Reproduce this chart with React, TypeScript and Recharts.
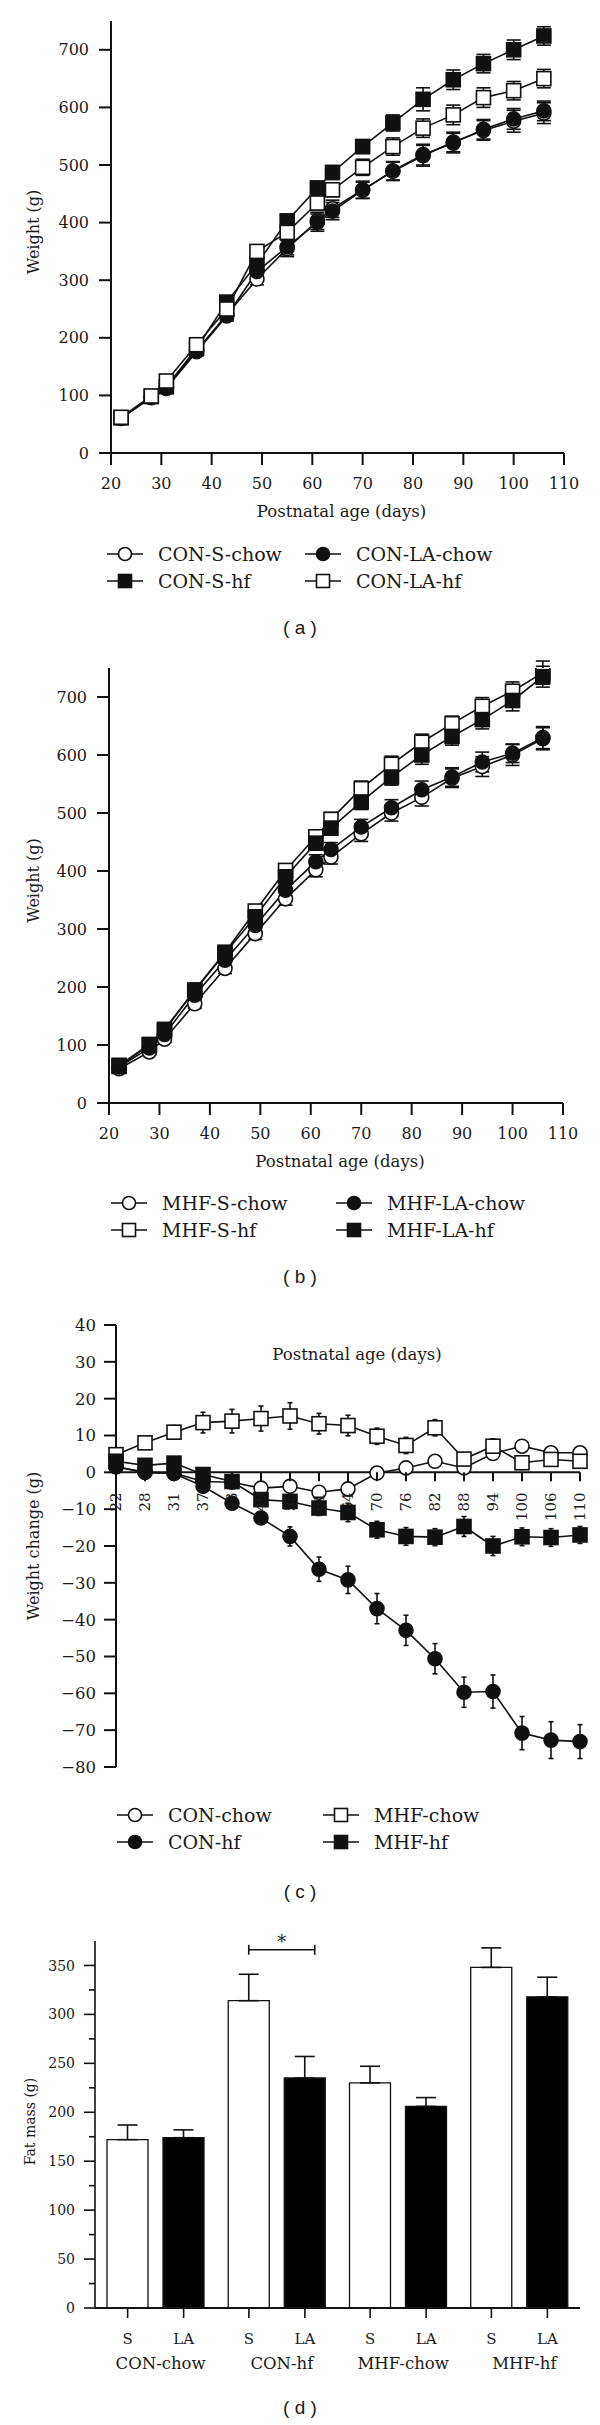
import React from 'react';
import {
  LineChart, Line, XAxis, YAxis, ErrorBar, ReferenceLine, Label,
  BarChart, Bar, LabelList,
} from 'recharts';

const SERIF = '"DejaVu Serif", serif';
const SANS = '"Liberation Sans", Arial, sans-serif';
const INK = '#111';

// (a) and (b): weigh-in days
const weighDays = [22, 28, 31, 37, 43, 49, 55, 61, 64, 70, 76, 82, 88, 94, 100, 106];

// (a) CON offspring, body weight (g)
const conSChow = [61, 97, 114, 178, 240, 302, 355, 403, 424, 457, 489, 516, 540, 560, 576, 590];
const conSChowErr = [5, 5, 6, 8, 9, 10, 14, 15, 15, 15, 16, 18, 17, 17, 19, 18];
const conLAChow = [60, 96, 112, 176, 238, 315, 358, 400, 420, 456, 490, 518, 538, 562, 580, 594];
const conLAChowErr = [5, 5, 6, 8, 9, 10, 14, 15, 15, 14, 16, 18, 17, 17, 18, 17];
const conSHf = [61, 98, 115, 182, 262, 328, 403, 460, 487, 532, 573, 614, 648, 676, 700, 724];
const conSHfErr = [5, 5, 6, 8, 9, 10, 10, 12, 12, 12, 14, 20, 17, 16, 17, 16];
const conLAHf = [62, 99, 125, 188, 250, 350, 383, 434, 457, 496, 532, 564, 587, 617, 629, 650];
const conLAHfErr = [5, 5, 6, 8, 8, 8, 10, 12, 12, 14, 15, 16, 17, 17, 16, 16];

// (b) MHF offspring, body weight (g)
const mhfSChow = [59, 88, 110, 171, 232, 292, 352, 402, 424, 464, 500, 527, 560, 580, 600, 628];
const mhfSChowErr = [5, 5, 6, 8, 9, 10, 11, 12, 12, 13, 14, 15, 16, 17, 18, 19];
const mhfLAChow = [62, 95, 118, 186, 246, 306, 367, 416, 437, 476, 509, 540, 562, 588, 603, 630];
const mhfLAChowErr = [5, 5, 6, 8, 9, 10, 11, 12, 12, 13, 14, 15, 16, 17, 16, 19];
const mhfSHf = [63, 100, 125, 195, 260, 331, 401, 459, 489, 542, 584, 622, 654, 684, 710, 742];
const mhfSHfErr = [5, 5, 6, 8, 9, 10, 11, 12, 12, 13, 14, 14, 13, 15, 16, 20];
const mhfLAHf = [65, 101, 127, 194, 258, 321, 390, 448, 474, 519, 562, 600, 632, 661, 694, 735];
const mhfLAHfErr = [5, 5, 6, 8, 9, 10, 11, 12, 12, 13, 14, 16, 15, 16, 18, 18];

// (c) weight change vs reference group (g)
const changeDays = ['22', '28', '31', '37', '43', '49', '55', '61', '64', '70', '76', '82', '88', '94', '100', '106', '110'];
const conChowChange = [1.5, 0, -0.2, -2.5, -2.7, -4.3, -3.8, -5.4, -4.5, -0.2, 1.2, 3.0, 1.2, 5.1, 7.1, 5.3, 5.3];
const conChowChangeErr = [0.8, 0.8, 0.8, 1, 1, 1.2, 1.2, 1.3, 1.3, 1, 1, 1, 1, 1, 1, 1, 1];
const conHfChange = [1.5, 0, -0.3, -3.8, -8.4, -12.4, -17.4, -26.3, -29.2, -37.0, -42.9, -50.6, -59.7, -59.5, -70.8, -72.7, -73.1];
const conHfChangeErr = [0.5, 0.5, 0.5, 1, 1.5, 1.5, 2.6, 3.3, 3.7, 4.1, 4.1, 4.1, 4.1, 4.5, 4.5, 5, 4.6];
const mhfChowChange = [4.8, 8.0, 10.9, 13.5, 13.9, 14.6, 15.3, 13.2, 12.7, 9.8, 7.3, 12.1, 3.6, 7.1, 2.6, 3.5, 3.0];
const mhfChowChangeErr = [1, 1.7, 1.8, 2.8, 3.2, 3.4, 3.6, 2.8, 2.8, 2.2, 2.2, 2.2, 1.5, 2.0, 1.8, 1.5, 1.5];
const mhfHfChange = [3.0, 1.9, 2.5, -0.6, -2.5, -7.4, -7.9, -9.7, -10.9, -15.6, -17.4, -17.6, -14.7, -20.0, -17.5, -17.7, -17.0];
const mhfHfChangeErr = [1, 1, 1, 1, 1.5, 1.5, 1.5, 2, 2.5, 2.3, 2.4, 2.3, 2.7, 2.6, 2.4, 2.4, 2.3];

// (d) fat mass (g)
const fatGroups = ['CON-chow', 'CON-hf', 'MHF-chow', 'MHF-hf'];
const fatS = [172, 314, 230, 348];
const fatSErr = [15, 27, 17, 20];
const fatLA = [174, 235, 206, 318];
const fatLAErr = [8, 22, 9, 20];
const fatSig = [false, true, false, false];

const dataA = weighDays.map((day, i) => ({
  day,
  sChow: conSChow[i], sChowErr: conSChowErr[i],
  laChow: conLAChow[i], laChowErr: conLAChowErr[i],
  sHf: conSHf[i], sHfErr: conSHfErr[i],
  laHf: conLAHf[i], laHfErr: conLAHfErr[i],
}));

const dataB = weighDays.map((day, i) => ({
  day,
  sChow: mhfSChow[i], sChowErr: mhfSChowErr[i],
  laChow: mhfLAChow[i], laChowErr: mhfLAChowErr[i],
  sHf: mhfSHf[i], sHfErr: mhfSHfErr[i],
  laHf: mhfLAHf[i], laHfErr: mhfLAHfErr[i],
}));

const dataC = changeDays.map((label, i) => ({
  label,
  conChow: conChowChange[i], conChowErr: conChowChangeErr[i],
  conHf: conHfChange[i], conHfErr: conHfChangeErr[i],
  mhfChow: mhfChowChange[i], mhfChowErr: mhfChowChangeErr[i],
  mhfHf: mhfHfChange[i], mhfHfErr: mhfHfChangeErr[i],
}));

const dataD = fatGroups.map((group, i) => ({
  group,
  s: fatS[i], sErr: [0, fatSErr[i]],
  la: fatLA[i], laErr: [0, fatLAErr[i]],
  sig: fatSig[i],
}));

type Shape = 'circle' | 'square';
interface SeriesDef { key: string; name: string; shape: Shape; filled: boolean }

const seriesA: SeriesDef[] = [
  { key: 'sChow', name: 'CON-S-chow', shape: 'circle', filled: false },
  { key: 'laChow', name: 'CON-LA-chow', shape: 'circle', filled: true },
  { key: 'sHf', name: 'CON-S-hf', shape: 'square', filled: true },
  { key: 'laHf', name: 'CON-LA-hf', shape: 'square', filled: false },
];
const seriesB: SeriesDef[] = [
  { key: 'sChow', name: 'MHF-S-chow', shape: 'circle', filled: false },
  { key: 'laChow', name: 'MHF-LA-chow', shape: 'circle', filled: true },
  { key: 'sHf', name: 'MHF-S-hf', shape: 'square', filled: false },
  { key: 'laHf', name: 'MHF-LA-hf', shape: 'square', filled: true },
];
const seriesC: SeriesDef[] = [
  { key: 'conChow', name: 'CON-chow', shape: 'circle', filled: false },
  { key: 'mhfChow', name: 'MHF-chow', shape: 'square', filled: false },
  { key: 'conHf', name: 'CON-hf', shape: 'circle', filled: true },
  { key: 'mhfHf', name: 'MHF-hf', shape: 'square', filled: true },
];

function Marker({ cx, cy, shape, filled, size = 14 }: { cx?: number; cy?: number; shape: Shape; filled: boolean; size?: number }) {
  if (cx == null || cy == null || Number.isNaN(cx) || Number.isNaN(cy)) return null;
  const fill = filled ? INK : '#fff';
  if (shape === 'square') {
    return <rect x={cx - size / 2} y={cy - size / 2} width={size} height={size} fill={fill} stroke={INK} strokeWidth={1.6} />;
  }
  return <circle cx={cx} cy={cy} r={size / 2} fill={fill} stroke={INK} strokeWidth={1.6} />;
}

const axisLine = { stroke: INK, strokeWidth: 2 };
const tickStyle = { fill: '#1a1a1a', fontSize: 16, fontFamily: SERIF };

// rotated y-axis title, centred on the plot
function yTitle(text: string, x: number, shift: number, size: number) {
  // eslint-disable-next-line @typescript-eslint/no-explicit-any
  return (props: any) => {
    const vb = props.viewBox || {};
    const cy = vb.y + vb.height / 2 + shift;
    return (
      <text x={x} y={cy} transform={`rotate(-90 ${x} ${cy})`} textAnchor="middle" dominantBaseline="central"
        fontFamily={SERIF} fontSize={size} fill="#1a1a1a">
        {text}
      </text>
    );
  };
}

// eslint-disable-next-line @typescript-eslint/no-explicit-any
const xTitle = (props: any) => {
  const vb = props.viewBox || {};
  return (
    <text x={vb.x + vb.width / 2 + 4} y={vb.y + 58} textAnchor="middle" dominantBaseline="central"
      fontFamily={SERIF} fontSize={16.5} fill="#1a1a1a">
      Postnatal age (days)
    </text>
  );
};

function GrowthChart({ data, series, top, height, marginTop, right, yWidth }: {
  // eslint-disable-next-line @typescript-eslint/no-explicit-any
  data: any[]; series: SeriesDef[]; top: number; height: number; marginTop: number; right: number; yWidth: number;
}) {
  return (
    <div style={{ position: 'absolute', left: 0, top }}>
      <LineChart width={600} height={height} data={data} margin={{ top: marginTop, right, bottom: 27, left: 0 }}>
        <XAxis dataKey="day" type="number" domain={[20, 110]} ticks={[20, 30, 40, 50, 60, 70, 80, 90, 100, 110]}
          height={50} axisLine={axisLine} tickLine={axisLine} tickSize={12} tickMargin={13} tick={tickStyle}>
          <Label content={xTitle} />
        </XAxis>
        <YAxis domain={[0, 750]} ticks={[0, 100, 200, 300, 400, 500, 600, 700]} allowDataOverflow
          width={yWidth} axisLine={axisLine} tickLine={axisLine} tickSize={12} tickMargin={10} tick={tickStyle}>
          <Label content={yTitle('Weight (g)', 33, -5, 16)} />
        </YAxis>
        {series.map((s) => (
          <Line key={s.key} dataKey={s.key} type="linear" stroke={INK} strokeWidth={1.6} isAnimationActive={false}
            // eslint-disable-next-line @typescript-eslint/no-explicit-any
            dot={(p: any) => <Marker key={`${s.key}-${p.index}`} cx={p.cx} cy={p.cy} shape={s.shape} filled={s.filled} />}>
            <ErrorBar dataKey={`${s.key}Err`} direction="y" width={7} stroke={INK} strokeWidth={1.6} />
          </Line>
        ))}
      </LineChart>
    </div>
  );
}

function LegendItem({ left, cy, def }: { left: number; cy: number; def: SeriesDef }) {
  return (
    <div style={{ position: 'absolute', left, top: cy - 14, height: 28, display: 'flex', alignItems: 'center', whiteSpace: 'nowrap' }}>
      <svg width={36} height={28}>
        <line x1={0} x2={36} y1={14} y2={14} stroke={INK} strokeWidth={1.6} />
        <Marker cx={18} cy={14} shape={def.shape} filled={def.filled} size={13} />
      </svg>
      <span style={{ marginLeft: 15, fontFamily: SERIF, fontSize: 19, color: '#1a1a1a', lineHeight: '28px' }}>{def.name}</span>
    </div>
  );
}

function Caption({ cy, text }: { cy: number; text: string }) {
  return (
    <div style={{ position: 'absolute', left: 0, width: 600, top: cy - 13, height: 26, lineHeight: '26px', textAlign: 'center',
      fontFamily: SANS, fontSize: 19, color: '#1a1a1a', whiteSpace: 'pre' }}>
      {text}
    </div>
  );
}

// (c) layout
const C_TOP = 25;
const C_HEIGHT = 480;
const C_XAXIS_H = 13;
const C_PLOT_H = C_HEIGHT - C_TOP - C_XAXIS_H;
const C_DOMAIN: [number, number] = [-80, 40];
const C_ZERO_Y = C_TOP + (C_PLOT_H * C_DOMAIN[1]) / (C_DOMAIN[1] - C_DOMAIN[0]);

// eslint-disable-next-line @typescript-eslint/no-explicit-any
function ChangeTick(props: any) {
  const { x, payload } = props;
  const ty = C_ZERO_Y + 20;
  return (
    <g>
      <line x1={x} x2={x} y1={C_ZERO_Y} y2={C_ZERO_Y + 9} stroke={INK} strokeWidth={2} />
      <text x={x} y={ty} transform={`rotate(-90 ${x} ${ty})`} textAnchor="end" dy="0.36em"
        fontFamily={SERIF} fontSize={15} fill="#1a1a1a">
        {payload.value}
      </text>
    </g>
  );
}

const minusFmt = (v: number) => (v < 0 ? `\u2212${Math.abs(v)}` : `${v}`);

// (d) layout
const D_TOP = 41;
const D_HEIGHT = 478;
const D_XAXIS_H = 70;
const D_PLOT_H = D_HEIGHT - D_TOP - D_XAXIS_H;
const D_MAX = 375;
const BAR_SIZE = 41;
const BAR_GAP = 15;
const D_TICK_SIZE = 11;
const D_TICK_MARGIN = 9;

// eslint-disable-next-line @typescript-eslint/no-explicit-any
function FatYTick(props: any) {
  const { x, y, payload } = props;
  const major = payload.value % 50 === 0;
  const ax = x + D_TICK_MARGIN + D_TICK_SIZE;
  return (
    <g>
      <line x1={ax - (major ? D_TICK_SIZE : 6)} x2={ax} y1={y} y2={y} stroke={INK} strokeWidth={1.6} />
      {major && (
        <text x={x} y={y} dy="0.36em" textAnchor="end" fontFamily={SERIF} fontSize={14} fill="#1a1a1a">{payload.value}</text>
      )}
    </g>
  );
}

// eslint-disable-next-line @typescript-eslint/no-explicit-any
function FatGroupTick(props: any) {
  const { x, y, payload } = props;
  const off = (BAR_SIZE + BAR_GAP) / 2;
  return (
    <g fontFamily={SERIF} fill="#1a1a1a">
      {[-off, off].map((d, i) => (
        <g key={i}>
          <line x1={x + d} x2={x + d} y1={y} y2={y + 10} stroke={INK} strokeWidth={1.6} />
          <text x={x + d} y={y + 31} textAnchor="middle" dominantBaseline="central" fontSize={15}>{i === 0 ? 'S' : 'LA'}</text>
        </g>
      ))}
      <text x={x + 5} y={y + 55} textAnchor="middle" dominantBaseline="central" fontSize={16.5}>{payload.value}</text>
    </g>
  );
}

// eslint-disable-next-line @typescript-eslint/no-explicit-any
function SigBracket(props: any) {
  if (!props.value) return null;
  const vb = props.viewBox && props.viewBox.width != null ? props.viewBox : props;
  const { x, y, width, height } = vb;
  const base = y + height;
  const yb = base - (366 * D_PLOT_H) / D_MAX;
  const x1 = x + width / 2;
  const x2 = x1 + BAR_SIZE + BAR_GAP + 10;
  return (
    <g stroke={INK} strokeWidth={1.6}>
      <line x1={x1} x2={x2} y1={yb} y2={yb} />
      <line x1={x1} x2={x1} y1={yb - 5} y2={yb + 5} />
      <line x1={x2} x2={x2} y1={yb - 5} y2={yb + 5} />
      <text x={(x1 + x2) / 2} y={yb - 2} textAnchor="middle" fontFamily={SERIF} fontSize={18} fill="#1a1a1a" stroke="none">*</text>
    </g>
  );
}

export default function App() {
  return (
    <div style={{ position: 'absolute', left: 0, top: 0, width: 600, height: 2425, background: '#fff', overflow: 'hidden' }}>
      {/* (a) */}
      <GrowthChart data={dataA} series={seriesA} top={0} height={530} marginTop={21} right={36} yWidth={111} />
      <LegendItem left={107} cy={554} def={seriesA[0]} />
      <LegendItem left={305} cy={554} def={seriesA[1]} />
      <LegendItem left={107} cy={581} def={seriesA[2]} />
      <LegendItem left={305} cy={581} def={seriesA[3]} />
      <Caption cy={628} text="( a )" />

      {/* (b) */}
      <GrowthChart data={dataB} series={seriesB} top={640} height={540} marginTop={28} right={37} yWidth={109} />
      <LegendItem left={111} cy={1203} def={seriesB[0]} />
      <LegendItem left={336} cy={1203} def={seriesB[1]} />
      <LegendItem left={111} cy={1230} def={seriesB[2]} />
      <LegendItem left={336} cy={1230} def={seriesB[3]} />
      <Caption cy={1277} text="( b )" />

      {/* (c) */}
      <div style={{ position: 'absolute', left: 0, top: 1300 }}>
        <LineChart width={600} height={C_HEIGHT} data={dataC} margin={{ top: C_TOP, right: 20, bottom: 0, left: 0 }}>
          <XAxis dataKey="label" type="category" interval={0} height={C_XAXIS_H} axisLine={false} tickLine={false}
            tickSize={0} tick={<ChangeTick />} />
          <YAxis domain={C_DOMAIN} ticks={[-80, -70, -60, -50, -40, -30, -20, -10, 0, 10, 20, 30, 40]} allowDataOverflow
            width={116} axisLine={axisLine} tickLine={axisLine} tickSize={12} tickMargin={8}
            tick={{ ...tickStyle, fontSize: 16.5 }} tickFormatter={minusFmt}>
            <Label content={yTitle('Weight change (g)', 33, 0, 16)} />
          </YAxis>
          <ReferenceLine y={0} stroke={INK} strokeWidth={2} />
          {seriesC.map((s) => (
            <Line key={s.key} dataKey={s.key} type="linear" stroke={INK} strokeWidth={1.6} isAnimationActive={false}
              // eslint-disable-next-line @typescript-eslint/no-explicit-any
              dot={(p: any) => <Marker key={`${s.key}-${p.index}`} cx={p.cx} cy={p.cy} shape={s.shape} filled={s.filled} />}>
              <ErrorBar dataKey={`${s.key}Err`} direction="y" width={2.5} stroke={INK} strokeWidth={1.6} />
            </Line>
          ))}
        </LineChart>
      </div>
      <div style={{ position: 'absolute', left: 0, width: 714, top: 1343, height: 24, lineHeight: '24px', textAlign: 'center',
        fontFamily: SERIF, fontSize: 16.5, color: '#1a1a1a' }}>
        Postnatal age (days)
      </div>
      <LegendItem left={117} cy={1815} def={seriesC[0]} />
      <LegendItem left={323} cy={1815} def={seriesC[1]} />
      <LegendItem left={117} cy={1842} def={seriesC[2]} />
      <LegendItem left={323} cy={1842} def={seriesC[3]} />
      <Caption cy={1892} text="( c )" />

      {/* (d) */}
      <div style={{ position: 'absolute', left: 0, top: 1900 }}>
        <BarChart width={600} height={D_HEIGHT} data={dataD} margin={{ top: D_TOP, right: 20, bottom: 0, left: 0 }}
          barGap={BAR_GAP}>
          <XAxis dataKey="group" type="category" height={D_XAXIS_H} axisLine={axisLine} tickLine={false} tickSize={0}
            tickMargin={0} interval={0} tick={<FatGroupTick />} />
          <YAxis domain={[0, D_MAX]} ticks={[0, 25, 50, 75, 100, 125, 150, 175, 200, 225, 250, 275, 300, 325, 350]}
            allowDataOverflow width={95} axisLine={{ stroke: INK, strokeWidth: 1.6 }} tickLine={false}
            tickSize={D_TICK_SIZE} tickMargin={D_TICK_MARGIN} tick={<FatYTick />}>
            <Label content={yTitle('Fat mass (g)', 30, -3, 14)} />
          </YAxis>
          <Bar dataKey="s" fill="#fff" stroke={INK} strokeWidth={1.3} barSize={BAR_SIZE} isAnimationActive={false}>
            <ErrorBar dataKey="sErr" direction="y" width={10} stroke={INK} strokeWidth={1.6} />
            <LabelList dataKey="sig" content={SigBracket} />
          </Bar>
          <Bar dataKey="la" fill="#000" stroke={INK} strokeWidth={1.3} barSize={BAR_SIZE} isAnimationActive={false}>
            <ErrorBar dataKey="laErr" direction="y" width={10} stroke={INK} strokeWidth={1.6} />
          </Bar>
        </BarChart>
      </div>
      <Caption cy={2408} text="( d )" />
    </div>
  );
}
